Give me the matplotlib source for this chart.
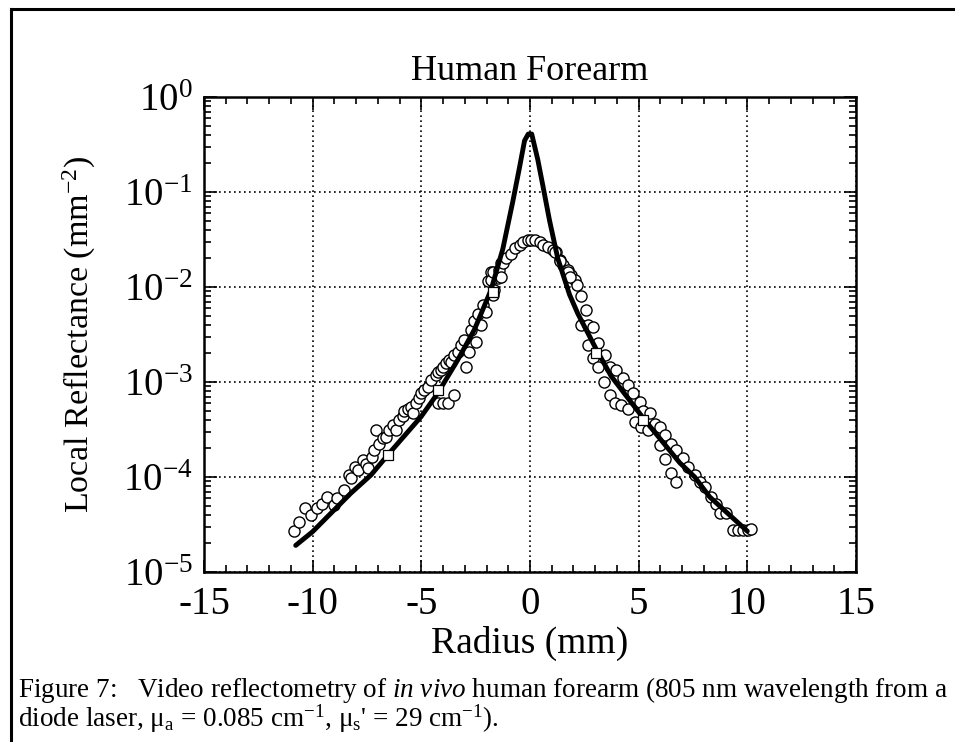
import numpy as np
import matplotlib
matplotlib.use("Agg")
import matplotlib.pyplot as plt
from matplotlib.ticker import LogLocator, MultipleLocator, FixedLocator, NullFormatter
from matplotlib.lines import Line2D

plt.rcParams['font.family'] = ['Liberation Serif', 'DejaVu Serif']
plt.rcParams['mathtext.fontset'] = 'custom'
plt.rcParams['mathtext.rm'] = 'Liberation Serif'
plt.rcParams['mathtext.it'] = 'Liberation Serif:italic'
plt.rcParams['mathtext.bf'] = 'Liberation Serif:bold'

# ---------------- data ----------------
title = "Human Forearm"
xlabel = "Radius (mm)"
ylabel = "Local Reflectance (mm$^{-2}$)"
xticks = [-15, -10, -5, 0, 5, 10, 15]
yticks_exp = [-5, -4, -3, -2, -1, 0]

# model curve (radius mm, log10 reflectance)
model_r = [-10.78, -10.0, -8.24, -7.32, -6.40, -5.01, -4.25, -3.33, -2.56, -1.79,
           -1.25, -0.79, -0.48, -0.25, -0.08, 0.08, 0.36, 0.59, 0.90, 1.28,
           1.82, 2.20, 3.06, 3.74, 5.28, 6.89, 7.58, 8.27, 10.0]
model_log = [-4.72, -4.575, -4.17, -3.98, -3.73, -3.365, -3.12, -2.77, -2.45, -2.03,
             -1.60, -1.10, -0.74, -0.46, -0.39, -0.39, -0.66, -0.93, -1.30, -1.70,
             -2.08, -2.28, -2.66, -2.94, -3.40, -3.85, -4.0, -4.21, -4.57]

# measured profile (circles)
meas_r = [-10.88, -10.62, -10.36, -10.08, -9.82, -9.59, -9.35, -9.04, -8.86, -8.55,
          -8.32, -8.24, -8.06, -7.90, -7.70, -7.55, -7.47, -7.29, -7.17, -7.09,
          -6.94, -6.78, -6.63, -6.47, -6.32, -6.17, -6.01, -5.86, -5.78, -5.63,
          -5.48, -5.40, -5.25, -5.09, -5.02, -4.86, -4.71, -4.55, -4.32, -4.25,
          -4.09, -4.02, -3.86, -3.71, -3.63, -3.48, -3.33, -3.17, -3.02, -2.94,
          -2.79, -2.71, -2.56, -2.48, -2.40, -2.25, -2.17, -2.02, -1.94, -1.79,
          -1.71, -1.48, -1.33, -4.25, -4.02, -3.79, -3.48,
          -1.79, -1.71, -1.64, -1.41, -1.33, -1.22, -1.10, -0.87, -0.71, -0.48,
          -0.30, -0.10, 0.05, 0.25, 0.44, 0.62, 0.82, 1.05, 1.21, 1.36,
          1.51, 1.74, 1.90, 2.05, 2.16,
          1.13, 1.36, 1.74, 1.82, 2.36, 2.59, 2.36, 2.67, 2.90, 2.67,
          3.13, 2.90, 3.13, 3.43, 3.66, 3.97, 4.28, 4.51, 4.74, 3.40,
          3.66, 3.89, 4.20, 4.51, 5.05, 5.20, 5.51, 4.82, 5.12, 5.43,
          5.74, 5.97, 6.20, 6.51, 5.97, 6.74, 7.04, 6.20, 6.51, 6.74,
          7.27, 7.58, 7.81, 8.04, 8.35, 8.58, 8.73, 9.04, 9.35, 9.58,
          9.81, 10.04, 10.19]
meas_log = [-4.57, -4.47, -4.33, -4.40, -4.33, -4.28, -4.21, -4.29, -4.22, -4.14,
            -3.98, -4.01, -3.89, -3.93, -3.82, -3.86, -3.91, -3.79, -3.72, -3.51,
            -3.65, -3.59, -3.58, -3.51, -3.45, -3.51, -3.40, -3.36, -3.31, -3.28,
            -3.26, -3.33, -3.22, -3.17, -3.12, -3.08, -3.05, -2.98, -2.93, -2.89,
            -2.87, -2.84, -2.80, -2.77, -2.79, -2.72, -2.68, -2.61, -2.56, -2.84,
            -2.68, -2.45, -2.36, -2.58, -2.28, -2.40, -2.19, -2.26, -1.94, -1.84,
            -2.08, -1.91, -1.75, -3.22, -3.22, -3.22, -3.14,
            -1.93, -1.84, -2.03, -1.82, -1.89, -1.75, -1.70, -1.65, -1.59, -1.56,
            -1.53, -1.51, -1.505, -1.51, -1.53, -1.56, -1.58, -1.61, -1.63, -1.72,
            -1.77, -1.82, -1.87, -1.93, -1.98,
            -1.63, -1.73, -1.84, -1.89, -2.10, -2.24, -2.40, -2.40, -2.42, -2.61,
            -2.59, -2.75, -2.84, -2.72, -2.84, -2.87, -2.96, -3.03, -3.12, -3.00,
            -3.14, -3.22, -3.24, -3.28, -3.21, -3.31, -3.33, -3.42, -3.47, -3.51,
            -3.44, -3.47, -3.56, -3.65, -3.66, -3.72, -3.80, -3.81, -3.96, -4.05,
            -3.89, -3.98, -4.05, -4.10, -4.21, -4.28, -4.38, -4.38, -4.56, -4.56,
            -4.56, -4.56, -4.55]

# selected points (squares)
sq_r = [-6.52, -4.22, -1.71, 3.05, 5.20]
sq_log = [-3.77, -3.08, -2.05, -2.69, -3.40]

caption1 = r"Figure 7:   Video reflectometry of $\mathit{in\ vivo}$ human forearm (805 nm wavelength from a"
caption2 = r"diode laser, μ$_{\mathrm{a}}$ = 0.085 cm$^{-1}$, μ$_{\mathrm{s}}$' = 29 cm$^{-1}$)."

# ---------------- figure ----------------
fig = plt.figure(figsize=(9.55, 7.42), dpi=100)
ax = fig.add_axes([0.2136, 0.2291, 0.6827, 0.6402])

ax.set_yscale('log')
ax.set_xlim(-15, 15)
ax.set_ylim(1e-5, 1e0)

ax.plot(meas_r, 10.0 ** np.array(meas_log), 'o', ms=8.0, mfc='white', mec='black',
        mew=1.0, zorder=3)
ax.plot(model_r, 10.0 ** np.array(model_log), '-', color='black', lw=3.5,
        solid_capstyle='round', solid_joinstyle='round', zorder=4)
ax.plot(sq_r, 10.0 ** np.array(sq_log), 's', ms=7.0, mfc='white', mec='black',
        mew=0.9, zorder=5)

ax.grid(True, which='major', color='black', linestyle=(0, (1.0, 2.0)), linewidth=1.2)
ax.set_axisbelow(True)

ax.xaxis.set_major_locator(FixedLocator(xticks))
ax.xaxis.set_minor_locator(MultipleLocator(1))
ax.set_xticklabels([str(t) for t in xticks])
ax.yaxis.set_major_locator(FixedLocator([10.0 ** e for e in yticks_exp]))
ax.set_yticklabels([r"$10^{%d}$" % e for e in yticks_exp])
ax.yaxis.set_minor_locator(LogLocator(base=10, subs=np.arange(2, 10), numticks=20))
ax.yaxis.set_minor_formatter(NullFormatter())

ax.tick_params(which='both', direction='in', top=True, right=True, width=1.2)
ax.tick_params(which='major', length=9, labelsize=28)
ax.tick_params(axis='x', which='major', pad=10)
ax.tick_params(axis='y', which='major', pad=8)
ax.tick_params(which='minor', length=5)
for s in ax.spines.values():
    s.set_linewidth(1.8)

ax.set_title(title, fontsize=26, pad=12)
ax.set_xlabel(xlabel, fontsize=27, labelpad=2)
ax.set_ylabel(ylabel, fontsize=24.5, labelpad=18)

fig.text(0.019, 0.060, caption1, fontsize=19.5, ha='left', va='baseline')
fig.text(0.019, 0.021, caption2, fontsize=19.5, ha='left', va='baseline')

# page frame (top and left edges)
fig.add_artist(Line2D([0.0115, 1.0], [0.9875, 0.9875], transform=fig.transFigure,
                      color='black', lw=2.2))
fig.add_artist(Line2D([0.0115, 0.0115], [0.0, 0.9875], transform=fig.transFigure,
                      color='black', lw=2.2))

fig.savefig("out.png", dpi=100)
